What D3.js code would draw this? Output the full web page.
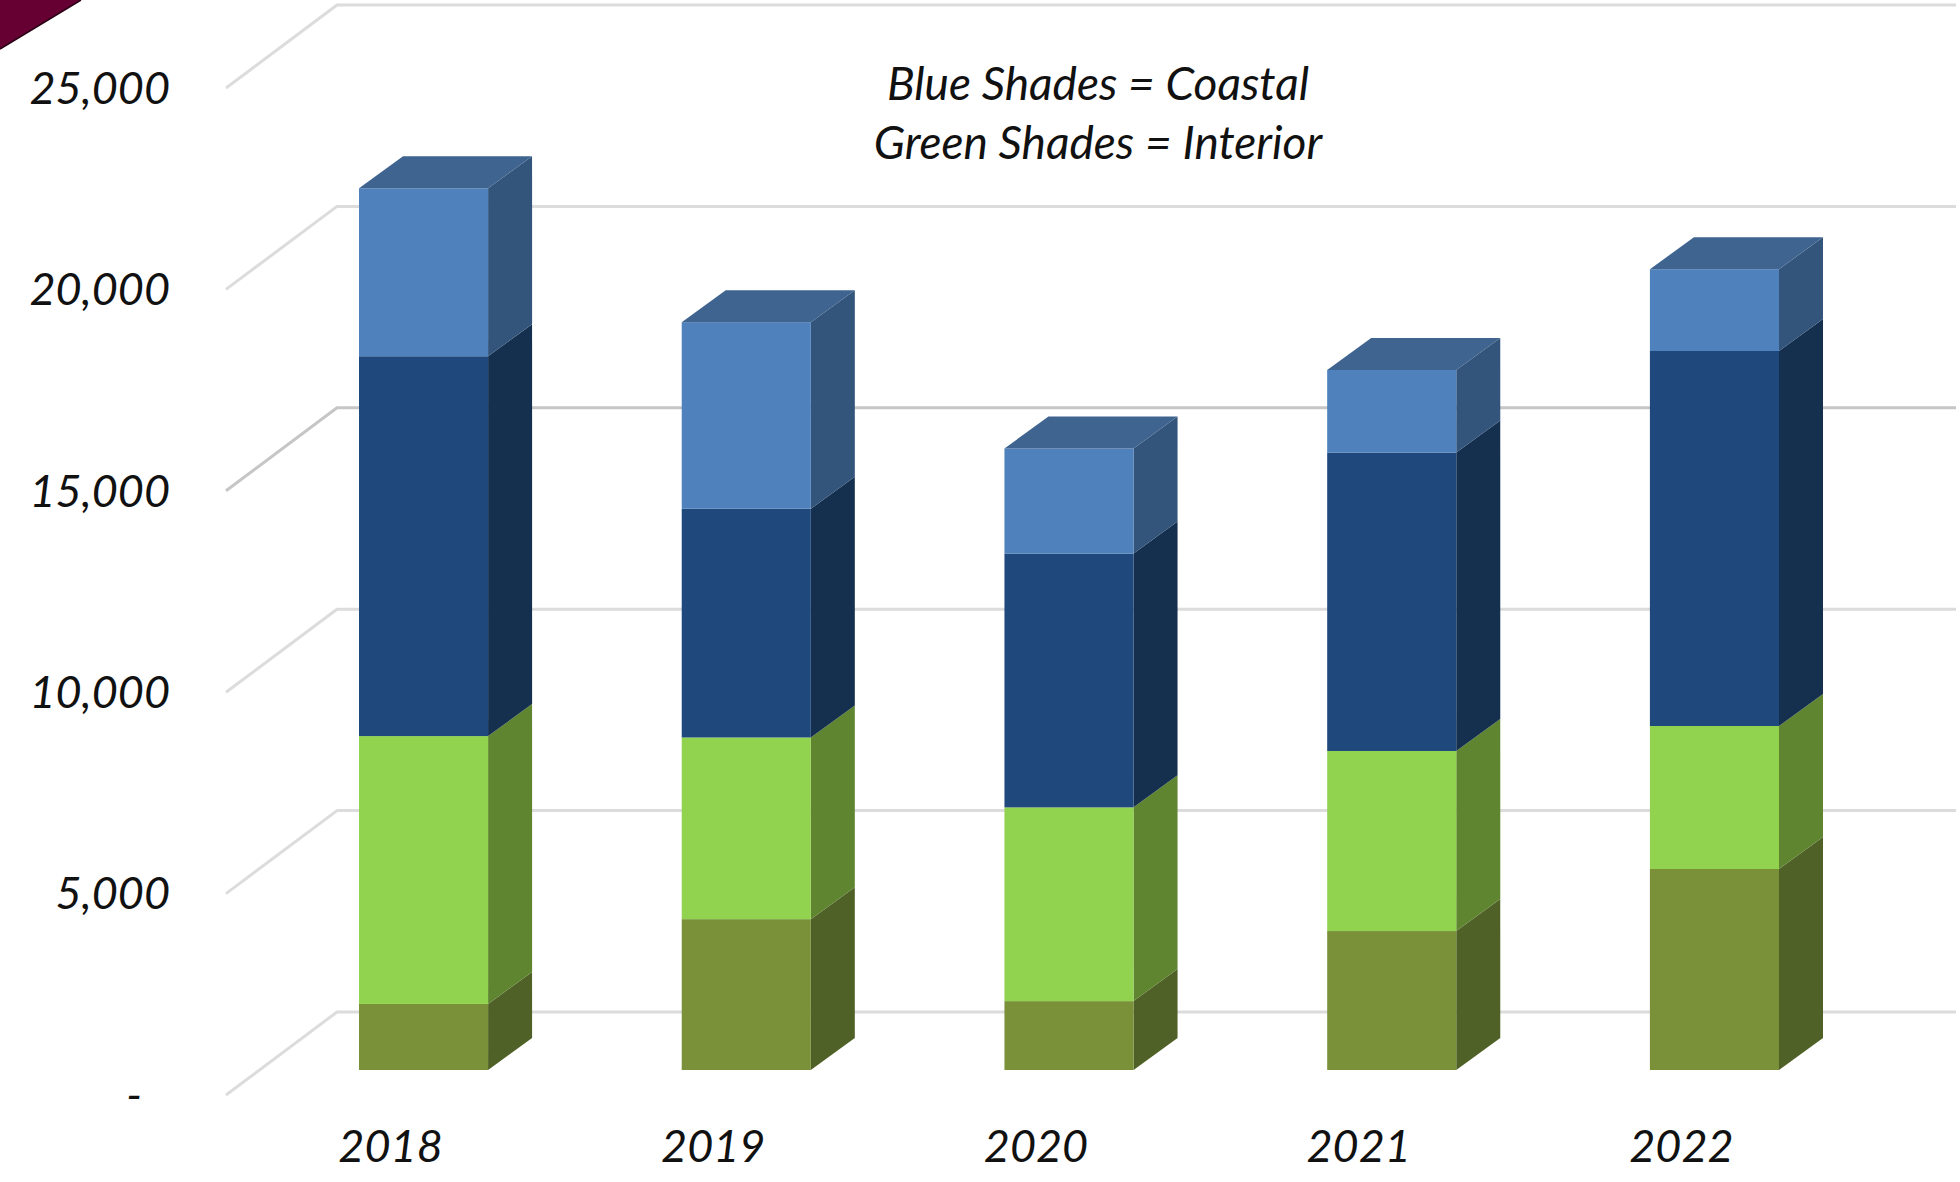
<!DOCTYPE html>
<html>
<head>
<meta charset="utf-8">
<script src="https://cdn.jsdelivr.net/npm/d3@7/dist/d3.min.js"></script>
<style>
  html, body { margin: 0; padding: 0; background: #fff; overflow: hidden; }
  svg { display: block; }
  text { font-family: "Lato", "Open Sans", sans-serif; font-style: italic; font-weight: 400; fill: #111; }
</style>
</head>
<body>
<svg id="chart" width="1960" height="1182"></svg>
<script>
// Regional totals by year, stacked from the ground up
const years = ["2018", "2019", "2020", "2021", "2022"];
const interiorLower = [1640, 3745, 1710, 3450, 4990];
const interiorUpper = [6650, 4510, 4810, 4470, 3550];
const coastalLower  = [9430, 5680, 6300, 7410, 9310];
const coastalUpper  = [4170, 4630, 2610, 2050, 2030];
const valueTicks = [0, 5000, 10000, 15000, 20000, 25000];
const noteLines = ["Blue Shades = Coastal", "Green Shades = Interior"];

const seriesNames = ["interiorLower", "interiorUpper", "coastalLower", "coastalUpper"];
const seriesValues = [interiorLower, interiorUpper, coastalLower, coastalUpper];
const faceColors = {
  interiorLower: { front: "#7A913A", side: "#4F6126", top: "#5F7230" },
  interiorUpper: { front: "#91D24F", side: "#5F8530", top: "#76A53E" },
  coastalLower:  { front: "#1F497D", side: "#15304F", top: "#193B66" },
  coastalUpper:  { front: "#4F81BD", side: "#33557B", top: "#3E648F" }
};

const svg = d3.select("#chart");

// Oblique projection: the value scale sits on the front edge of the floor,
// the wall and the bars are the same scale pushed back by a depth offset.
const y = d3.scaleLinear().domain([0, 25000]).range([1095, 88]);
const wall = { dx: 111, dy: -83, right: 1956 };
const barPlane = { dy: -25 };
const barDepth = { dx: 44, dy: -32 };

const x = d3.scaleBand()
  .domain(years)
  .range([359, 1779])
  .paddingInner(0.6)
  .paddingOuter(0)
  .align(0);

// Corner ribbon
svg.append("path")
  .attr("d", d3.line()([[0, 0], [81, 0], [0, 49]]) + "Z")
  .attr("fill", "#660033");
svg.append("path")
  .attr("d", d3.line()([[81, 0], [0, 49]]))
  .attr("stroke", "#2a0016")
  .attr("stroke-width", 1.5)
  .attr("fill", "none");

// Wall gridlines with their slanted return to the axis
const grid = svg.append("g").attr("fill", "none").attr("stroke-linejoin", "round");
grid.selectAll("path")
  .data(valueTicks)
  .join("path")
  .attr("stroke", d => d === 15000 ? "#c6c6c6" : "#dcdcdc")
  .attr("stroke-width", 3)
  .attr("d", d => {
    const y0 = y(d);
    const x0 = x.range()[0] - 133;
    return d3.line()([[x0, y0], [x0 + wall.dx, y0 + wall.dy], [wall.right, y0 + wall.dy]]);
  });

// Stacked bars, each segment drawn as front, side and top faces
const stack = d3.stack().keys(seriesNames.map((_, i) => i))
  .value((row, key) => row[key])(years.map((_, j) => seriesValues.map(s => s[j])));

const bars = svg.append("g");
stack.forEach((layer, i) => {
  const colors = faceColors[seriesNames[i]];
  const g = bars.append("g");
  layer.forEach((span, j) => {
    const left = x(years[j]);
    const right = left + x.bandwidth();
    const yLow = y(span[0]) + barPlane.dy;
    const yHigh = y(span[1]) + barPlane.dy;
    const { dx, dy } = barDepth;
    g.append("path")
      .attr("fill", colors.side)
      .attr("d", d3.line()([[right, yLow], [right + dx, yLow + dy], [right + dx, yHigh + dy], [right, yHigh]]) + "Z");
    g.append("rect")
      .attr("fill", colors.front)
      .attr("x", left)
      .attr("y", yHigh)
      .attr("width", x.bandwidth())
      .attr("height", yLow - yHigh);
    if (i === stack.length - 1) {
      g.append("path")
        .attr("fill", colors.top)
        .attr("d", d3.line()([[left, yHigh], [left + dx, yHigh + dy], [right + dx, yHigh + dy], [right, yHigh]]) + "Z");
    }
  });
});

// Value axis: labels only, zero written as a dash
const axisLeft = d3.axisLeft(y)
  .tickValues(valueTicks)
  .tickSize(0)
  .tickPadding(0)
  .tickFormat(d => d === 0 ? "-" : d3.format(",")(d));
const gy = svg.append("g").attr("transform", "translate(170,0)").call(axisLeft);
gy.select(".domain").remove();
gy.selectAll("text")
  .attr("font-size", 45)
  .attr("dx", d => d === 0 ? -28 : 0)
  .attr("dy", "0.34em")
  .style("font-family", null);

// Year axis: labels sit to the left of the bar they name
const labelOffset = -33;
const axisBottom = d3.axisBottom(x).tickSize(0).tickPadding(0);
const gx = svg.append("g").attr("transform", "translate(" + labelOffset + ",1130)").call(axisBottom);
gx.select(".domain").remove();
gx.selectAll("text")
  .attr("font-size", 45)
  .attr("y", 0)
  .attr("dy", "0.71em");

gy.attr("font-family", null);
gx.attr("font-family", null);

// Colour key written above the bars
svg.append("g")
  .selectAll("text")
  .data(noteLines)
  .join("text")
  .attr("x", 1098)
  .attr("y", (d, i) => 100 + i * 59)
  .attr("text-anchor", "middle")
  .attr("font-size", 46)
  .text(d => d);
</script>
</body>
</html>
